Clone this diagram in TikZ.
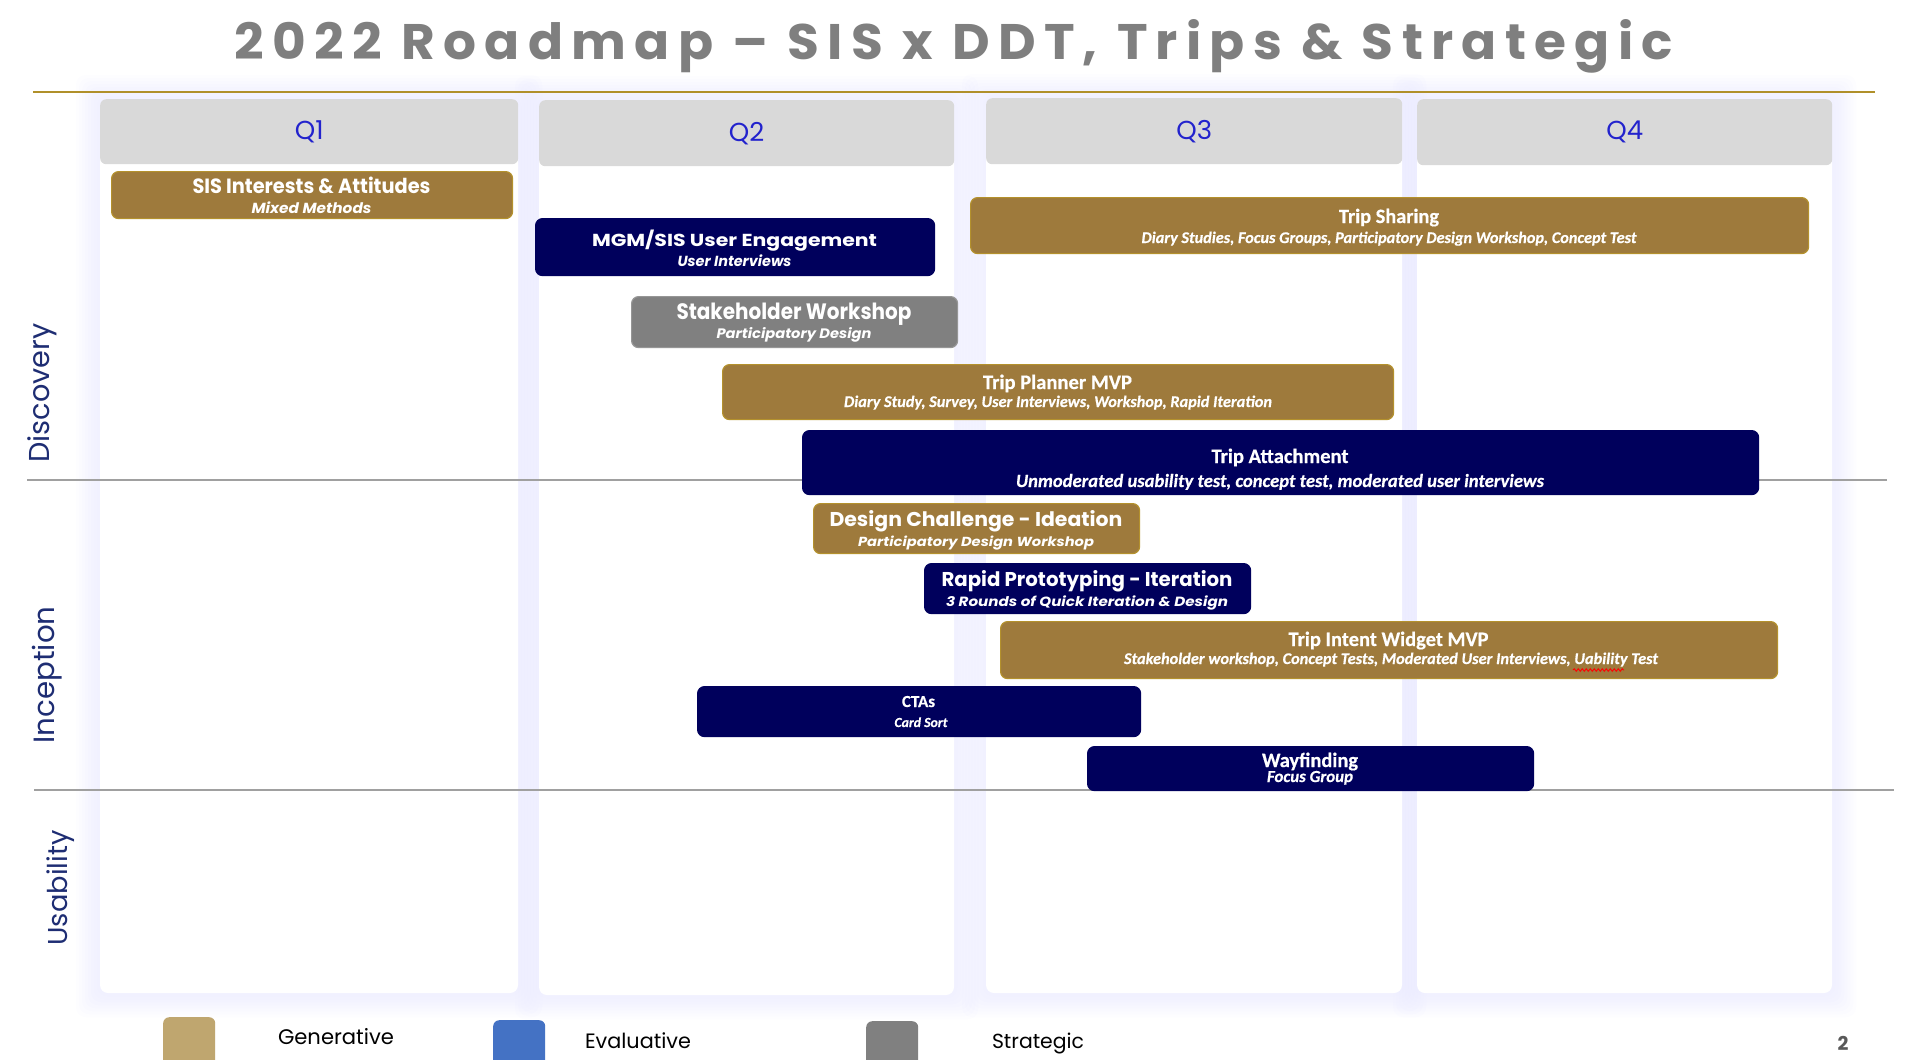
\documentclass[tikz,border=0pt]{standalone}
\usepackage{fontspec}
\usepackage{graphicx}
\usetikzlibrary{decorations.pathmorphing}
\newfontfamily\popfont{Poppins}
\newfontfamily\poptitle{Poppins}[LetterSpace=16]
\newfontfamily\calfont{Carlito}[FakeBold=0.5]
\definecolor{goldF}{RGB}{158,122,60}
\definecolor{goldE}{RGB}{180,145,45}
\definecolor{navyF}{RGB}{0,0,92}
\definecolor{grayF}{RGB}{128,128,128}
\definecolor{grayE}{RGB}{150,150,150}
\definecolor{hdrF}{RGB}{217,217,217}
\definecolor{glowC}{RGB}{228,228,255}
\definecolor{qblue}{RGB}{35,35,205}
\definecolor{rowc}{RGB}{30,45,115}
\definecolor{ruleG}{RGB}{176,144,42}
\definecolor{gridc}{RGB}{160,160,160}
\definecolor{titleC}{RGB}{127,127,127}
\definecolor{genC}{RGB}{191,166,111}
\definecolor{evaC}{RGB}{68,114,196}
\definecolor{pgC}{RGB}{89,89,89}
\newcommand\fwh[3]{\resizebox{#1pt}{#2pt}{#3}}
\newcommand\fw[2]{\resizebox{#1pt}{!}{#2}}
\newcommand\panelglow[4]{%
  \foreach \d in {3,6,...,24}{\fill[glowC, opacity=0.065, rounded corners=10pt] (#1-\d,#2-\d) rectangle (#3+\d,#4+\d);}%
}
\tikzset{
  barbase/.style={line width=1.2pt, rounded corners=7pt, inner sep=0pt, anchor=north west},
  barG/.style={barbase, fill=goldF, draw=goldE},
  barN/.style={barbase, fill=navyF, draw=navyF},
  barS/.style={barbase, fill=grayF, draw=grayE},
  cgT/.style={text=white, inner sep=0pt, anchor=base, font=\popfont\bfseries\fontsize{20}{24}\selectfont},
  cgS/.style={cgT, font=\popfont\bfseries\itshape\fontsize{20}{24}\selectfont},
  caT/.style={text=white, inner sep=0pt, anchor=base, font=\calfont\bfseries\fontsize{20}{24}\selectfont},
  caS/.style={caT, font=\calfont\bfseries\itshape\fontsize{20}{24}\selectfont},
  hdr/.style={fill=hdrF, rounded corners=6pt, inner sep=0pt, anchor=north west, text=qblue, font=\popfont\fontsize{26}{30}\selectfont},
  rowl/.style={rotate=90, anchor=base, inner sep=0pt, text=rowc, font=\popfont\fontsize{30}{36}\selectfont},
  leg/.style={anchor=base, inner sep=0pt, text=black, font=\popfont\fontsize{22}{26}\selectfont},
  sw/.style={rounded corners=6pt, inner sep=0pt, anchor=north west, minimum width=52pt, minimum height=52pt},
  gridline/.style={gridc, line width=1.3pt},
  panelbox/.style={fill=white, rounded corners=8pt}
}
\begin{document}
\begin{tikzpicture}[x=1pt, y=-1pt]
\useasboundingbox (0,0) rectangle (1920,1060);
\fill[white] (0,0) rectangle (1920,1060);
% glows
\panelglow{100}{99}{518}{993}
\panelglow{539}{100}{954}{995}
\panelglow{986}{98}{1402}{993}
\panelglow{1417}{99}{1832}{993}
% panels
\fill[panelbox] (100,99) rectangle (518,993);
\fill[panelbox] (539,100) rectangle (954,995);
\fill[panelbox] (986,98) rectangle (1402,993);
\fill[panelbox] (1417,99) rectangle (1832,993);
% headers
\node[hdr, minimum width=418pt, minimum height=65pt] (q1) at (100,99) {Q1};
\node[hdr, minimum width=415pt, minimum height=66pt] (q2) at (539,100) {Q2};
\node[hdr, minimum width=416pt, minimum height=66pt] (q3) at (986,98) {Q3};
\node[hdr, minimum width=415pt, minimum height=66pt] (q4) at (1417,99) {Q4};
% title and rule
\node[anchor=base, inner sep=0pt, text=titleC, font=\poptitle\bfseries\fontsize{50}{60}\selectfont] (title) at (954,59.3) {\fwh{1438}{40}{2022 Roadmap – SIS x DDT, Trips \& Strategic}};
\draw[ruleG, line width=2.5pt] (33,92) -- (1875,92);
% row dividers
\draw[gridline] (27,480) -- (1887,480);
\draw[gridline] (34,790) -- (1894,790);
% row labels
\node[rowl] (disc) at (49,393) {\fw{139}{Discovery}};
\node[rowl] (inc) at (54,675) {\fw{137}{Inception}};
\node[rowl] (usa) at (67,888) {\fw{115}{Usability}};
% bars
\node[barG, minimum width=401pt, minimum height=47pt] (sis) at (111,171) {};
\node[barN, minimum width=399pt, minimum height=57pt] (mgm) at (535,218) {};
\node[barS, minimum width=326pt, minimum height=51pt] (stk) at (631,296) {};
\node[barG, minimum width=838pt, minimum height=56pt] (share) at (970,197) {};
\node[barG, minimum width=671pt, minimum height=55pt] (plan) at (722,364) {};
\node[barN, minimum width=956pt, minimum height=64pt] (att) at (802,430) {};
\node[barG, minimum width=326pt, minimum height=50pt] (dc) at (813,503) {};
\node[barN, minimum width=326pt, minimum height=50pt] (rp) at (924,563) {};
\node[barG, minimum width=777pt, minimum height=57pt] (int) at (1000,621) {};
\node[barN, minimum width=443pt, minimum height=50pt] (cta) at (697,686) {};
\node[barN, minimum width=446pt, minimum height=44pt] (way) at (1087,746) {};
% bar texts (Century Gothic style)
\node[cgT] (sisT) at (311.5,193.3) {\fwh{238}{16.5}{SIS Interests \& Attitudes}};
\node[cgS] (sisS) at (311.5,213.3) {\fwh{120}{11.7}{Mixed Methods}};
\node[cgT] (mgmT) at (734.5,246) {\fwh{285}{16.5}{MGM/SIS User Engagement}};
\node[cgS] (mgmS) at (734.5,266) {\fwh{114}{11.7}{User Interviews}};
\node[cgT] (stkT) at (794,319) {\fwh{235}{16.5}{Stakeholder Workshop}};
\node[cgS] (stkS) at (794,338.5) {\fwh{155}{11}{Participatory Design}};
\node[cgT] (dcT) at (976,526.7) {\fwh{293}{16}{Design Challenge - Ideation}};
\node[cgS] (dcS) at (976,546) {\fwh{236}{10.5}{Participatory Design Workshop}};
\node[cgT] (rpT) at (1087,586) {\fwh{291}{16}{Rapid Prototyping - Iteration}};
\node[cgS] (rpS) at (1087,606.7) {\fwh{282}{10.7}{3 Rounds of Quick Iteration \& Design}};
% bar texts (Calibri style)
\node[caT] (shareT) at (1389,223) {\fw{100}{Trip Sharing}};
\node[caS] (shareS) at (1389,243) {\fw{495}{Diary Studies, Focus Groups, Participatory Design Workshop, Concept Test}};
\node[caT] (planT) at (1057.5,389) {\fw{149}{Trip Planner MVP}};
\node[caS] (planS) at (1058,407) {\fw{428}{Diary Study, Survey, User Interviews, Workshop, Rapid Iteration}};
\node[caT] (attT) at (1280,463) {\fw{137}{Trip Attachment}};
\node[caS] (attS) at (1280,487) {\fw{528}{Unmoderated usability test, concept test, moderated user interviews}};
\node[caT] (intT) at (1388.5,646) {\fw{200}{Trip Intent Widget MVP}};
\node[caS] (intS) at (1391,664) {\fw{534}{Stakeholder workshop, Concept Tests, Moderated User Interviews, Uability Test}};
\draw[red, line width=0.9pt, decorate, decoration={snake, amplitude=1.3pt, segment length=4pt}] (1573,670) -- (1624,670);
\node[caT] (ctaT) at (918.5,707) {\fw{33}{CTAs}};
\node[caS] (ctaS) at (921,727) {\fw{53}{Card Sort}};
\node[caT] (wayT) at (1310,767) {\fw{96}{Wayfinding}};
\node[caS] (wayS) at (1310,782) {\fw{86}{Focus Group}};
% legend
\node[sw, fill=genC] (swG) at (163,1017) {};
\node[sw, fill=evaC] (swE) at (493,1020) {};
\node[sw, fill=grayF] (swS) at (866,1021) {};
\node[leg] (genL) at (336,1044.3) {\fw{116}{Generative}};
\node[leg] (evaL) at (638,1048.3) {\fw{106}{Evaluative}};
\node[leg] (strL) at (1038,1048.3) {\fw{92}{Strategic}};
\node[anchor=base, inner sep=0pt, text=pgC, font=\popfont\bfseries\fontsize{19}{22}\selectfont] (pg) at (1843,1050) {2};
\end{tikzpicture}
\end{document}
